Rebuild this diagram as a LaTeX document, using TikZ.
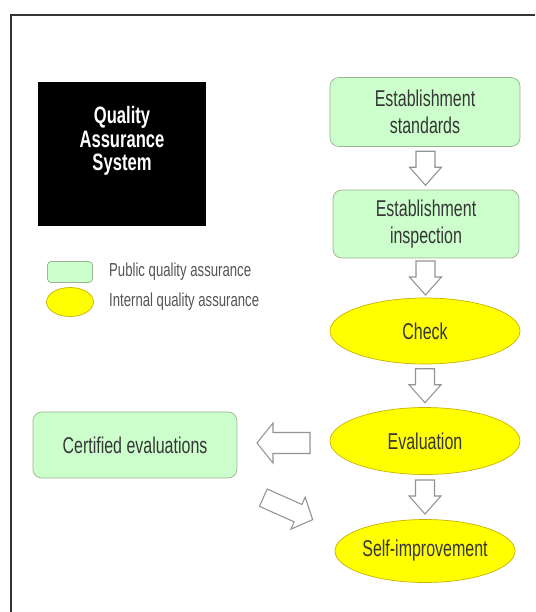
\documentclass[tikz,border=0pt]{standalone}
\usepackage{fontspec}
\setmainfont{Liberation Sans}[FakeStretch=0.7]
\usetikzlibrary{shapes.geometric,calc}

\definecolor{pubgreen}{HTML}{CCFFCC}
\definecolor{pubedge}{HTML}{99B38F}
\definecolor{intyellow}{HTML}{FFFF00}
\definecolor{intedge}{HTML}{C9B200}
\definecolor{txtgray}{HTML}{363636}

% hollow block arrow: center, angle, length, shaft width, head width, head length
\newcommand{\flowarrow}[6]{%
  \draw[arrowline,shift={#1},rotate=#2]
    (-#3/2,-#4/2) -- (#3/2-#6,-#4/2) -- (#3/2-#6,-#5/2) -- (#3/2,0)
    -- (#3/2-#6,#5/2) -- (#3/2-#6,#4/2) -- (-#3/2,#4/2) -- cycle;}

\begin{document}
\begin{tikzpicture}[x=0.02cm,y=-0.02cm,
  pub/.style={draw=pubedge,fill=pubgreen,rounded corners=5pt,text=txtgray,align=center,font=\fontsize{13}{15}\selectfont},
  internal/.style={ellipse,draw=intedge,fill=intyellow,text=txtgray,font=\fontsize{13}{15}\selectfont,inner sep=0pt},
  arrowline/.style={draw=gray!85,fill=white,line width=0.6pt,line join=miter}]
\useasboundingbox (0,0) rectangle (535,612);
\draw [line width=1.5pt,black!80] (11,612) -- (11,15) -- (535,15);

% title and legend
\node[fill=black,minimum width=3.36cm,minimum height=2.88cm] (sys) at (122,154) {};
\node[text=white,align=center,font=\bfseries\fontsize{13.5}{13.5}\selectfont] (systitle) at (122,141) {Quality\\Assurance\\System};
\node[pub,rounded corners=2pt,minimum width=0.9cm,minimum height=0.42cm] (legpub) at (70,272) {};
\node[internal,minimum width=0.94cm,minimum height=0.58cm] (legint) at (70,302) {};
\node[anchor=west,text=txtgray!85,font=\fontsize{10.7}{12}\selectfont] (legpubtext) at (103,272) {Public quality assurance};
\node[anchor=west,text=txtgray!85,font=\fontsize{10.7}{12}\selectfont] (leginttext) at (103,302) {Internal quality assurance};

% main flow
\node[pub,minimum width=3.8cm,minimum height=1.38cm] (std) at (425,112) {Establishment\\standards};
\node[pub,minimum width=3.72cm,minimum height=1.36cm] (insp) at (426,224) {Establishment\\inspection};
\node[internal,minimum width=3.8cm,minimum height=1.32cm] (check) at (425,331) {Check};
\node[internal,minimum width=3.8cm,minimum height=1.34cm] (eval) at (425,441) {Evaluation};
\node[internal,minimum width=3.6cm,minimum height=1.26cm] (self) at (425,551) {Self-improvement};
\node[pub,minimum width=4.08cm,minimum height=1.32cm] (cert) at (135,445) {Certified evaluations};

\flowarrow{($(std.south)!0.5!(insp.north)$)}{-90}{34}{19}{32}{18}
\flowarrow{($(insp.south)!0.5!(check.north)$)}{-90}{34}{19}{32}{18}
\flowarrow{($(check.south)!0.5!(eval.north)$)}{-90}{34}{19}{32}{18}
\flowarrow{($(eval.south)!0.5!(self.north)$)}{-90}{34}{19}{32}{18}
\flowarrow{($(cert.east)!0.5!(eval.west)$)}{180}{53}{21}{40}{16}
\flowarrow{($(cert.south east)!0.5!(self.west)+(2,-6)$)}{-24}{54}{19}{35}{16}
\end{tikzpicture}
\end{document}
